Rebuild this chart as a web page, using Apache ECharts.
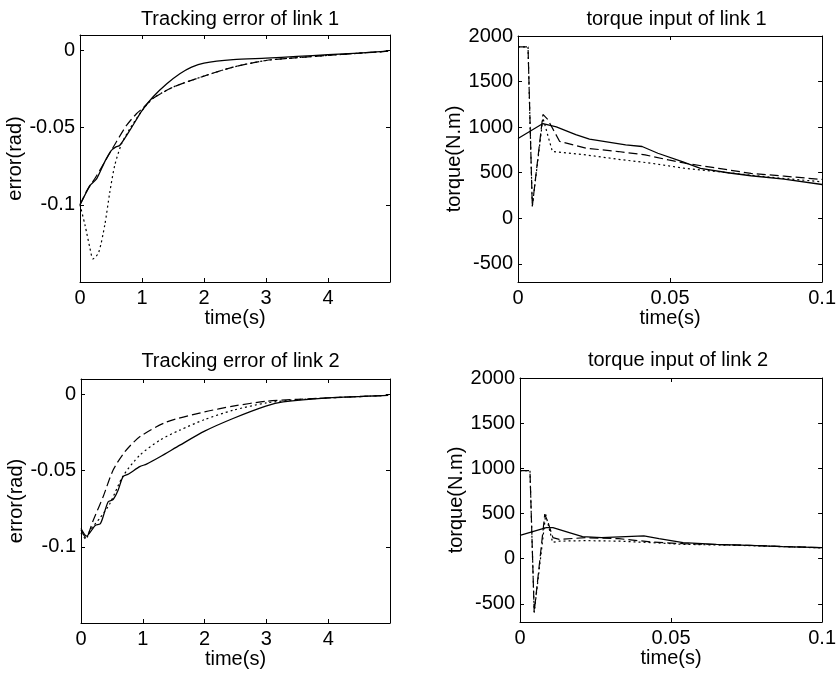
<!DOCTYPE html>
<html><head><meta charset="utf-8">
<script src="https://cdn.jsdelivr.net/npm/echarts@6/dist/echarts.min.js"></script>
<style>html,body{margin:0;padding:0;background:#fff}#c{width:839px;height:675px}</style>
</head><body><div id="c"></div>
<script>
// ---- Panel 1: Tracking error of link 1 ----
const e1SolidT = [0, 0.1, 0.16, 0.27, 0.4, 0.5, 0.58, 0.64, 0.8, 1.0, 1.18, 1.4, 1.61, 1.8, 2.0, 2.47, 3.0, 3.5, 4.0, 4.5, 4.97];
const e1SolidY = [-0.1, -0.092, -0.0875, -0.083, -0.072, -0.065, -0.0625, -0.0616, -0.052, -0.039, -0.030, -0.0216, -0.0151, -0.0108, -0.0082, -0.006, -0.005, -0.0039, -0.0028, -0.0017, -0.0004];
const e1DashT = [0, 0.11, 0.27, 0.43, 0.59, 0.75, 0.91, 1.01, 1.18, 1.5, 2.0, 2.47, 3.0, 3.5, 4.0, 4.5, 4.97];
const e1DashY = [-0.1, -0.091, -0.081, -0.070, -0.059, -0.0486, -0.041, -0.0375, -0.031, -0.0238, -0.0166, -0.0108, -0.0065, -0.0047, -0.0032, -0.0018, -0.0005];
const e1DotT = [0, 0.08, 0.16, 0.21, 0.3, 0.4, 0.48, 0.56, 0.67, 0.8, 1.0, 1.18, 1.5, 2.0, 2.47, 3.0, 3.5, 4.0, 4.5, 4.97];
const e1DotY = [-0.1, -0.113, -0.128, -0.135, -0.131, -0.113, -0.092, -0.0745, -0.0605, -0.051, -0.039, -0.031, -0.0238, -0.0166, -0.0108, -0.0065, -0.0047, -0.0032, -0.0018, -0.0005];

// ---- Panel 2: torque input of link 1 ----
const t1SolidT = [0, 0.0082, 0.0126, 0.019, 0.0235, 0.0354, 0.0408, 0.046, 0.054, 0.060, 0.069, 0.0766, 0.0875, 0.1];
const t1SolidY = [875, 1039, 1002, 917, 869, 806, 787, 713, 621, 547, 499, 466, 429, 370];
const t1DashT = [0, 0.0033, 0.0047, 0.0082, 0.0098, 0.0137, 0.0223, 0.033, 0.0418, 0.0495, 0.055, 0.066, 0.0766, 0.0875, 0.1];
const t1DashY = [1880, 1880, 130, 1139, 1083, 843, 769, 732, 695, 640, 603, 547, 492, 462, 425];
const t1DotT = [0, 0.0033, 0.0047, 0.0082, 0.0113, 0.0223, 0.033, 0.044, 0.055, 0.066, 0.0766, 0.0875, 0.1];
const t1DotY = [1880, 1880, 130, 1100, 732, 695, 647, 603, 547, 510, 473, 436, 400];

// ---- Panel 3: Tracking error of link 2 ----
const e2SolidT = [0, 0.09, 0.23, 0.31, 0.36, 0.44, 0.52, 0.6, 0.68, 0.77, 0.95, 1.06, 1.28, 1.6, 2.0, 2.46, 2.99, 3.27, 4.0, 4.97];
const e2SolidY = [-0.088, -0.093, -0.086, -0.085, -0.080, -0.0705, -0.069, -0.063, -0.054, -0.0523, -0.0475, -0.0458, -0.041, -0.0334, -0.0242, -0.0159, -0.0078, -0.005, -0.0024, -0.0007];
const e2DashT = [0, 0.08, 0.2, 0.36, 0.52, 0.71, 0.95, 1.39, 2.0, 2.46, 3.0, 3.5, 4.0, 4.97];
const e2DashY = [-0.089, -0.094, -0.0824, -0.067, -0.0497, -0.0377, -0.0279, -0.0181, -0.0116, -0.0078, -0.0046, -0.0033, -0.0024, -0.0007];
const e2DotT = [0, 0.08, 0.15, 0.31, 0.47, 0.68, 0.95, 1.28, 1.6, 2.0, 2.46, 3.0, 3.5, 4.0, 4.97];
const e2DotY = [-0.091, -0.095, -0.089, -0.081, -0.0715, -0.0536, -0.040, -0.030, -0.0235, -0.0166, -0.0105, -0.0057, -0.0036, -0.0024, -0.0007];

// ---- Panel 4: torque input of link 2 ----
const t2SolidT = [0, 0.0087, 0.0109, 0.0163, 0.0207, 0.027, 0.035, 0.041, 0.046, 0.054, 0.065, 0.076, 0.087, 0.1];
const t2SolidY = [259, 344, 344, 289, 244, 233, 244, 252, 222, 178, 159, 148, 133, 122];
const t2DashT = [0, 0.0033, 0.0047, 0.0082, 0.0093, 0.0109, 0.013, 0.0218, 0.0327, 0.0436, 0.054, 0.076, 0.1];
const t2DashY = [974, 974, -593, 493, 400, 233, 215, 233, 222, 185, 167, 148, 122];
const t2DotT = [0, 0.0033, 0.0047, 0.0085, 0.0108, 0.013, 0.0218, 0.0327, 0.0436, 0.054, 0.076, 0.1];
const t2DotY = [974, 974, -593, 490, 181, 195, 200, 195, 178, 160, 145, 120];

// ---- Tick labels ----
const timeTicksErr = [0, 1, 2, 3, 4];
const timeTicksTorque = [0, 0.05, 0.1];
const errTicks = [-0.1, -0.05, 0];
const torqueTicks = [-500, 0, 500, 1000, 1500, 2000];

const titles = ['Tracking error of link 1', 'torque input of link 1', 'Tracking error of link 2', 'torque input of link 2'];
const yNames = ['error(rad)', 'torque(N.m)', 'error(rad)', 'torque(N.m)'];
const xName = 'time(s)';

const FONT = "'Liberation Sans', Arial, sans-serif";
const FS = 20;
const grids = [
  {left: 80, top: 35, width: 310, height: 247},
  {left: 518, top: 36, width: 307, height: 246},
  {left: 81, top: 379, width: 309, height: 244},
  {left: 520, top: 378, width: 306, height: 244}
];
const titleTops = [4, 4, 346, 345];
const xr = [[0, 5], [0, 0.1], [0, 5], [0, 0.1]];
const yr = [[-0.15, 0.01], [-700, 2000], [-0.15, 0.01], [-700, 2000]];
const xt = [timeTicksErr, timeTicksTorque, timeTicksErr, timeTicksTorque];
const yt = [errTicks, torqueTicks, errTicks, torqueTicks];
const yGap = [54, 51, 54, 51];

const zip = (a, b) => a.map((v, i) => [v, b[i]]);
const seriesSets = [
  [[e1SolidT, e1SolidY], [e1DashT, e1DashY], [e1DotT, e1DotY]],
  [[t1SolidT, t1SolidY], [t1DashT, t1DashY], [t1DotT, t1DotY]],
  [[e2SolidT, e2SolidY], [e2DashT, e2DashY], [e2DotT, e2DotY]],
  [[t2SolidT, t2SolidY], [t2DashT, t2DashY], [t2DotT, t2DotY]]
];
const smoothing = [0.25, 0, 0.25, 0];
const styles = [
  {type: 'solid', width: 1.3},
  {type: [9, 4], width: 1.2},
  {type: [2, 3], width: 1.2}
];

const lineStyle = {color: '#000', width: 1};
const fmt = v => String(Math.round(v * 1000) / 1000);
const option = {
  backgroundColor: '#fff',
  animation: false,
  textStyle: {fontFamily: FONT, color: '#000'},
  title: [], grid: [], xAxis: [], yAxis: [], series: []
};

for (let i = 0; i < 4; i++) {
  const g = grids[i];
  option.grid.push(Object.assign({containLabel: false}, g));
  option.title.push({
    text: titles[i], left: g.left + g.width / 2, top: titleTops[i], textAlign: 'center',
    textStyle: {fontFamily: FONT, fontSize: FS, fontWeight: 'normal', color: '#000'}
  });
  option.xAxis.push({
    type: 'value', gridIndex: i, position: 'bottom', min: xr[i][0], max: xr[i][1],
    name: xName, nameLocation: 'middle', nameGap: 22,
    nameTextStyle: {fontFamily: FONT, fontSize: FS, color: '#000'},
    axisLine: {show: true, onZero: false, lineStyle},
    axisTick: {show: true, inside: true, length: 4, lineStyle, customValues: xt[i]},
    axisLabel: {show: true, fontFamily: FONT, fontSize: FS, color: '#000', margin: 6, customValues: xt[i], formatter: fmt},
    splitLine: {show: false}
  });
  option.xAxis.push({
    type: 'value', gridIndex: i, position: 'top', min: xr[i][0], max: xr[i][1],
    axisLine: {show: true, onZero: false, lineStyle},
    axisTick: {show: true, inside: true, length: 4, lineStyle, customValues: xt[i]},
    axisLabel: {show: false}, splitLine: {show: false}
  });
  option.yAxis.push({
    type: 'value', gridIndex: i, position: 'left', min: yr[i][0], max: yr[i][1],
    name: yNames[i], nameLocation: 'middle', nameGap: yGap[i],
    nameTextStyle: {fontFamily: FONT, fontSize: FS, color: '#000'},
    axisLine: {show: true, onZero: false, lineStyle},
    axisTick: {show: true, inside: true, length: 4, lineStyle, customValues: yt[i]},
    axisLabel: {show: true, fontFamily: FONT, fontSize: FS, color: '#000', margin: 5, customValues: yt[i], formatter: fmt},
    splitLine: {show: false}
  });
  option.yAxis.push({
    type: 'value', gridIndex: i, position: 'right', min: yr[i][0], max: yr[i][1],
    axisLine: {show: true, onZero: false, lineStyle},
    axisTick: {show: true, inside: true, length: 4, lineStyle, customValues: yt[i]},
    axisLabel: {show: false}, splitLine: {show: false}
  });
  seriesSets[i].forEach((s, k) => {
    option.series.push({
      type: 'line', xAxisIndex: 2 * i, yAxisIndex: 2 * i,
      data: zip(s[0], s[1]), showSymbol: false, symbol: 'none',
      smooth: smoothing[i],
      lineStyle: Object.assign({color: '#000'}, styles[k]),
      clip: true, silent: true
    });
  });
}

const chart = echarts.init(document.getElementById('c'), null, {renderer: 'canvas'});
chart.setOption(option);
</script>
</body></html>
